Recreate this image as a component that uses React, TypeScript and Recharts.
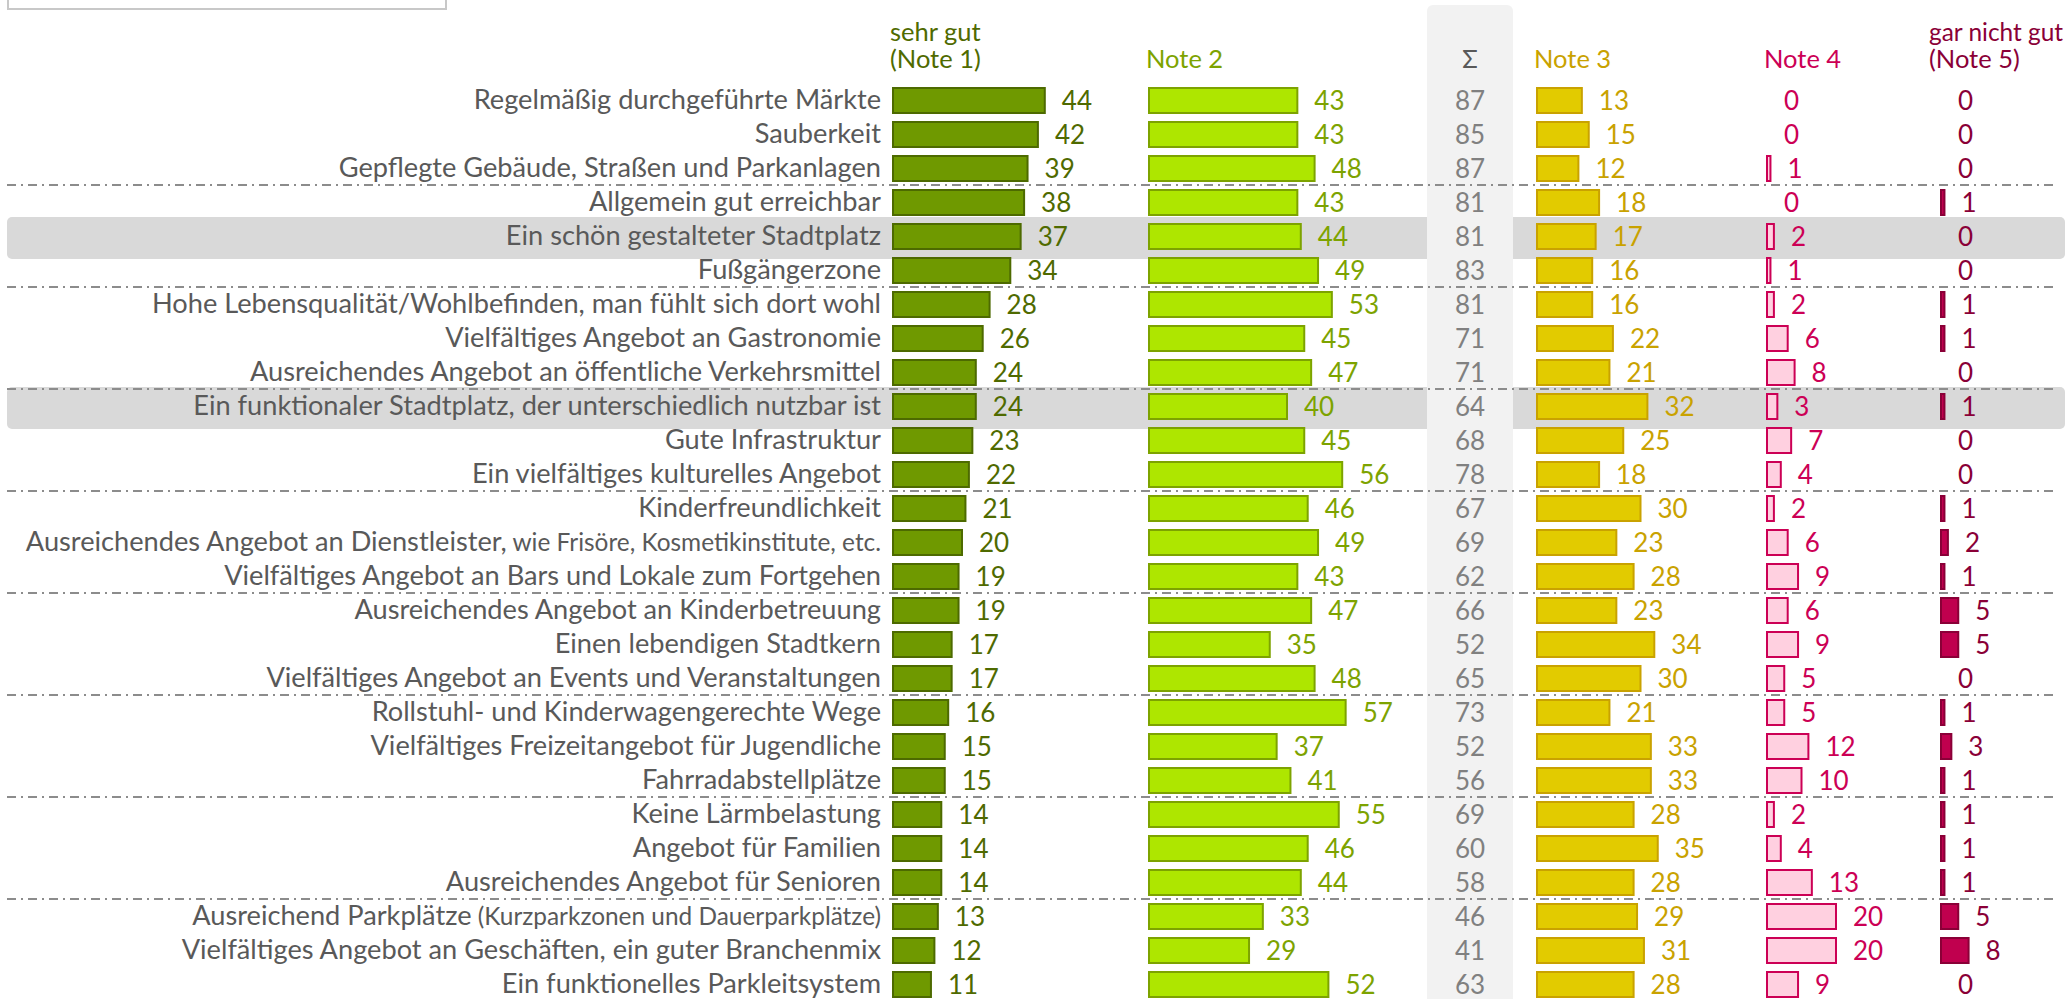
// Bewertung der Innenstadt-Merkmale (Schulnoten 1–5)
// fünf Balkenspalten nebeneinander, Σ = Note 1 + Note 2

import { BarChart, Bar, XAxis, YAxis, LabelList, ReferenceArea, ReferenceLine, Rectangle } from 'recharts'

const labelMain = [
  'Regelmäßig durchgeführte Märkte',
  'Sauberkeit',
  'Gepflegte Gebäude, Straßen und Parkanlagen',
  'Allgemein gut erreichbar',
  'Ein schön gestalteter Stadtplatz',
  'Fußgängerzone',
  'Hohe Lebensqualität/Wohlbefinden, man fühlt sich dort wohl',
  'Vielfältiges Angebot an Gastronomie',
  'Ausreichendes Angebot an öffentliche Verkehrsmittel',
  'Ein funktionaler Stadtplatz, der unterschiedlich nutzbar ist',
  'Gute Infrastruktur',
  'Ein vielfältiges kulturelles Angebot',
  'Kinderfreundlichkeit',
  'Ausreichendes Angebot an Dienstleister,',
  'Vielfältiges Angebot an Bars und Lokale zum Fortgehen',
  'Ausreichendes Angebot an Kinderbetreuung',
  'Einen lebendigen Stadtkern',
  'Vielfältiges Angebot an Events und Veranstaltungen',
  'Rollstuhl- und Kinderwagengerechte Wege',
  'Vielfältiges Freizeitangebot für Jugendliche',
  'Fahrradabstellplätze',
  'Keine Lärmbelastung',
  'Angebot für Familien',
  'Ausreichendes Angebot für Senioren',
  'Ausreichend Parkplätze',
  'Vielfältiges Angebot an Geschäften, ein guter Branchenmix',
  'Ein funktionelles Parkleitsystem',
]

// klein gesetzte Zusätze hinter einzelnen Kategorien
const labelSmall: Record<number, string> = {
  13: 'wie Frisöre, Kosmetikinstitute, etc.',
  24: '(Kurzparkzonen und Dauerparkplätze)',
}

const note1 = [44, 42, 39, 38, 37, 34, 28, 26, 24, 24, 23, 22, 21, 20, 19, 19, 17, 17, 16, 15, 15, 14, 14, 14, 13, 12, 11]
const note2 = [43, 43, 48, 43, 44, 49, 53, 45, 47, 40, 45, 56, 46, 49, 43, 47, 35, 48, 57, 37, 41, 55, 46, 44, 33, 29, 52]
const sums = [87, 85, 87, 81, 81, 83, 81, 71, 71, 64, 68, 78, 67, 69, 62, 66, 52, 65, 73, 52, 56, 69, 60, 58, 46, 41, 63]
const note3 = [13, 15, 12, 18, 17, 16, 16, 22, 21, 32, 25, 18, 30, 23, 28, 23, 34, 30, 21, 33, 33, 28, 35, 28, 29, 31, 28]
const note4 = [0, 0, 1, 0, 2, 1, 2, 6, 8, 3, 7, 4, 2, 6, 9, 6, 9, 5, 5, 12, 10, 2, 4, 13, 20, 20, 9]
const note5 = [0, 0, 0, 1, 0, 0, 1, 1, 0, 1, 0, 0, 1, 2, 1, 5, 5, 0, 1, 3, 1, 1, 1, 1, 5, 8, 0]

// Zeilen, über denen eine Trennlinie steht, und hervorgehobene Zeilen
const groupStarts = [3, 6, 9, 12, 15, 18, 21, 24]
const highlighted = [4, 9]

const headers = [
  { key: 'n1', lines: ['sehr gut', '(Note 1)'] },
  { key: 'n2', lines: ['Note 2'] },
  { key: 'sum', lines: ['Σ'] },
  { key: 'n3', lines: ['Note 3'] },
  { key: 'n4', lines: ['Note 4'] },
  { key: 'n5', lines: ['gar nicht gut', '(Note 5)'] },
]

const categories = labelMain.map((m, i) => (labelSmall[i] ? `${m} ${labelSmall[i]}` : m))

const rows = categories.map((cat, i) => ({
  cat,
  n1: note1[i],
  n2: note2[i],
  sum: sums[i],
  n3: note3[i],
  n4: note4[i],
  n5: note5[i],
}))

// Layout
const FONT = 'Lato, "Noto Sans", sans-serif'
const LABEL_FS = 27.2
const SMALL_FS = 24.4
const VALUE_FS = 26
const HEADER_FS = 25.5
const BASE_DY = 9
const K = 3.45 // px je Prozentpunkt
const CHART_W = 2069
const PLOT_LEFT = 886
const PLOT_RIGHT = CHART_W
const TOP = 83
const ROW_H = 34
const ROWS_H = rows.length * ROW_H

const series = [
  { key: 'n1', zero: 893, fill: '#6f9900', stroke: '#4d6a00', text: '#4f6a00' },
  { key: 'n2', zero: 1149, fill: '#aee600', stroke: '#7da300', text: '#7da300' },
  { key: 'sum', zero: 1470, fill: 'transparent', stroke: 'none', text: '#808080' },
  { key: 'n3', zero: 1537, fill: '#e2cb00', stroke: '#c9a200', text: '#c9a200' },
  { key: 'n4', zero: 1767, fill: '#ffd0e0', stroke: '#cc0055', text: '#cc0055' },
  { key: 'n5', zero: 1941, fill: '#c0004e', stroke: '#8a0037', text: '#8a0037' },
]

const domainFor = (z: number): [number, number] => [-(z - PLOT_LEFT) / K, (PLOT_RIGHT - z) / K]

const valueLabel = (color: string, centered: boolean) => (p: any) => {
  const vb = p.viewBox && p.viewBox.width !== undefined ? p.viewBox : p
  const w = Math.abs(vb.width) < 0.5 ? 0 : vb.width
  const x = centered ? vb.x : vb.x + w + 17
  return (
    <text
      x={x}
      y={vb.y + vb.height / 2}
      dy={BASE_DY}
      textAnchor={centered ? 'middle' : 'start'}
      fill={color}
      fontSize={VALUE_FS}
      fontFamily={FONT}
    >
      {p.value}
    </text>
  )
}

const CategoryTick = (props: any) => {
  const { x, y, payload } = props
  const idx = categories.indexOf(payload.value)
  const small = labelSmall[idx]
  return (
    <text x={x} y={y} dy={BASE_DY} textAnchor="end" fill="#595959" fontSize={LABEL_FS} fontFamily={FONT}>
      {labelMain[idx]}
      {small && <tspan fontSize={SMALL_FS}>{' ' + small}</tspan>}
    </text>
  )
}

// Nullwerte: kein Balken, aber Beschriftung "0"
const barShape = (key: string) => (p: any) =>
  p.payload && p.payload[key] === 0 ? <g /> : <Rectangle {...p} />

export default function App() {
  return (
    <div style={{ position: 'relative', width: CHART_W, height: 999, overflow: 'hidden', background: '#fff' }}>
      <style>{'body{margin:0;overflow:hidden}'}</style>
      <BarChart
        width={CHART_W}
        height={TOP + ROWS_H + 1}
        data={rows}
        layout="vertical"
        margin={{ top: TOP, right: 0, bottom: 1, left: 0 }}
        barCategoryGap={0}
      >
        {series.map((s) => (
          <XAxis key={'x' + s.key} xAxisId={s.key} type="number" hide domain={domainFor(s.zero)} allowDataOverflow />
        ))}
        {series.map((s, i) => (
          <YAxis
            key={'y' + s.key}
            yAxisId={s.key}
            type="category"
            dataKey="cat"
            hide={i > 0}
            width={PLOT_LEFT}
            axisLine={false}
            tickLine={false}
            tickSize={0}
            tickMargin={5}
            interval={0}
            tick={CategoryTick}
          />
        ))}

        {highlighted.map((r) => (
          <ReferenceArea
            key={'h' + r}
            xAxisId="n1"
            yAxisId="n1"
            y1={categories[r]}
            y2={categories[r]}
            ifOverflow="visible"
            shape={(p: any) => <rect x={7} y={p.y - 2} width={2058} height={p.height + 8} rx={5} fill="#d9d9d9" />}
          />
        ))}

        <ReferenceArea
          xAxisId="sum"
          yAxisId="sum"
          x1={-43 / K}
          x2={43 / K}
          ifOverflow="visible"
          shape={(p: any) => (
            <rect x={p.x} y={5} width={p.width} height={p.y + p.height - 5 + 10} rx={6} fill="#f2f2f2" />
          )}
        />

        {groupStarts.map((r) => (
          <ReferenceLine
            key={'l' + r}
            xAxisId="n1"
            yAxisId="n1"
            y={categories[r]}
            position="start"
            ifOverflow="visible"
            shape={(p: any) => (
              <line x1={7} x2={2058} y1={p.y1} y2={p.y1} stroke="#8c8c8c" strokeWidth={2} strokeDasharray="9 5 2 5" />
            )}
          />
        ))}

        {series.map((s) => (
          <Bar
            key={'b' + s.key}
            dataKey={s.key}
            xAxisId={s.key}
            yAxisId={s.key}
            barSize={25}
            fill={s.fill}
            stroke={s.stroke}
            strokeWidth={2}
            minPointSize={0.01}
            shape={barShape(s.key)}
            isAnimationActive={false}
          >
            <LabelList dataKey={s.key} content={valueLabel(s.text, s.key === 'sum')} />
          </Bar>
        ))}
      </BarChart>

      <svg
        width={CHART_W}
        height={80}
        style={{ position: 'absolute', left: 0, top: 0, pointerEvents: 'none' }}
      >
        {headers.map((h) => {
          const s = series.find((c) => c.key === h.key)!
          const centered = h.key === 'sum'
          const x = centered ? s.zero : h.key === 'n5' ? s.zero - 12 : s.zero - 3
          return (
            <text
              key={h.key}
              x={x}
              textAnchor={centered ? 'middle' : 'start'}
              fill={h.key === 'sum' ? '#595959' : s.text}
              fontSize={HEADER_FS}
              fontFamily={FONT}
            >
              {h.lines.map((ln, i) => (
                <tspan
                  key={i}
                  x={x}
                  y={68 - (h.lines.length - 1 - i) * 27}
                  {...(ln === 'gar nicht gut' ? { textLength: 134, lengthAdjust: 'spacingAndGlyphs' } : {})}
                >
                  {ln}
                </tspan>
              ))}
            </text>
          )
        })}
      </svg>

      <div
        style={{
          position: 'absolute',
          left: 7,
          top: -4,
          width: 436,
          height: 10,
          border: '2px solid #c8c8c8',
          background: '#fff',
        }}
      />
    </div>
  )
}
